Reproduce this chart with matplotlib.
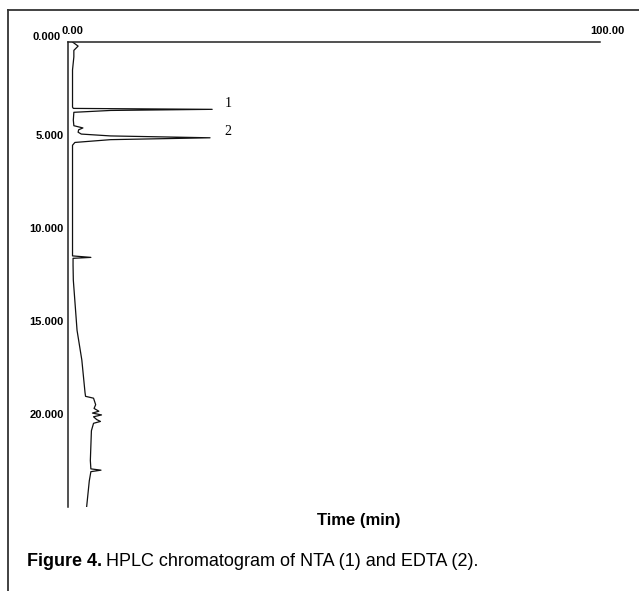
import numpy as np
import matplotlib
matplotlib.use("Agg")
from matplotlib import pyplot as plt
from matplotlib.lines import Line2D
from matplotlib.transforms import ScaledTranslation

# retention time (min) and detector signal
time_min = [0.0, 0.22, 0.45, 0.8, 1.5, 3.5, 3.57, 3.62, 3.68, 3.78, 4.2, 4.5,
            4.62, 4.72, 4.85, 4.95, 5.05, 5.15, 5.25, 5.4, 5.55, 11.5, 11.58,
            11.63, 12.0, 12.8, 15.5, 17.1, 18.85, 19.05, 19.15, 19.5, 19.7,
            19.85, 19.95, 20.05, 20.15, 20.3, 20.4, 20.5, 20.9, 22.5, 22.95,
            23.02, 23.1, 23.6, 25.0]
signal = [0.85, 1.9, 1.1, 1.1, 0.85, 0.85, 1.0, 27.1, 8.0, 1.1, 1.0, 1.1,
          2.8, 2.0, 1.9, 2.5, 8.0, 26.7, 8.0, 1.3, 0.85, 0.85, 4.3,
          0.95, 0.95, 1.0, 1.7, 2.6, 3.2, 3.3, 4.8, 5.2, 4.9,
          5.8, 4.6, 6.3, 4.8, 5.4, 6.1, 4.8, 4.4, 4.2, 4.3,
          6.2, 4.3, 4.0, 3.5]

y_ticks = [0, 5, 10, 15, 20]
y_labels = ["0.000", "5.000", "10.000", "15.000", "20.000"]
x_ticks = [0, 100]
x_labels = ["0.00", "100.00"]

peak_names = ["1", "2"]
peak_times = [3.3, 4.8]

W, H = 639, 591
fig = plt.figure(figsize=(W / 100, H / 100), dpi=100)
plt.rcParams["font.family"] = ["Liberation Sans", "DejaVu Sans"]

# outer frame (top and left edges only are inside the picture)
fig.add_artist(Line2D([8 / W, 8 / W], [0, 1 - 10 / H], color="#333333", lw=1.3))
fig.add_artist(Line2D([8 / W, 1], [1 - 10 / H, 1 - 10 / H], color="#333333", lw=1.3))

ax = fig.add_axes([68 / W, (H - 507) / H, (600 - 68) / W, (507 - 42) / H])
ax.plot(signal, time_min, color="#111111", lw=0.9)
ax.set_xlim(0, 100)
ax.set_ylim(25, 0)

for side in ["right", "bottom"]:
    ax.spines[side].set_visible(False)
for side in ["left", "top"]:
    ax.spines[side].set_linewidth(1.1)
    ax.spines[side].set_color("#222222")

ax.xaxis.tick_top()
ax.set_xticks(x_ticks, x_labels, fontweight="bold", fontsize=8)
ax.set_yticks(y_ticks, y_labels, fontweight="bold", fontsize=8)
ax.tick_params(length=0, pad=3)
ax.tick_params(axis="x", pad=4)

# the labels sit a little off their ticks in the original
lbl = ax.get_yticklabels()[0]
lbl.set_transform(lbl.get_transform() + ScaledTranslation(-3 / 100, 6 / 100, fig.dpi_scale_trans))
xl = ax.get_xticklabels()
xl[0].set_transform(xl[0].get_transform() + ScaledTranslation(4 / 100, 0, fig.dpi_scale_trans))
xl[1].set_transform(xl[1].get_transform() + ScaledTranslation(7 / 100, 0, fig.dpi_scale_trans))

for name, t in zip(peak_names, peak_times):
    ax.text(30.1, t, name, fontsize=10, family="Liberation Serif", ha="center", va="center")

fig.text(359 / W, 1 - 520 / H, "Time (min)", ha="center", va="center",
         fontsize=12, fontweight="bold")

# caption: bold lead-in followed by plain text
lead = fig.text(27 / W, 1 - 561 / H, "Figure 4.", ha="left", va="center",
                fontsize=13, fontweight="bold")
fig.canvas.draw()
bb = lead.get_window_extent()
fig.text((bb.x1 + 4) / W, 1 - 561 / H, "HPLC chromatogram of NTA (1) and EDTA (2).",
         ha="left", va="center", fontsize=13)

fig.savefig("out.png", dpi=100)
